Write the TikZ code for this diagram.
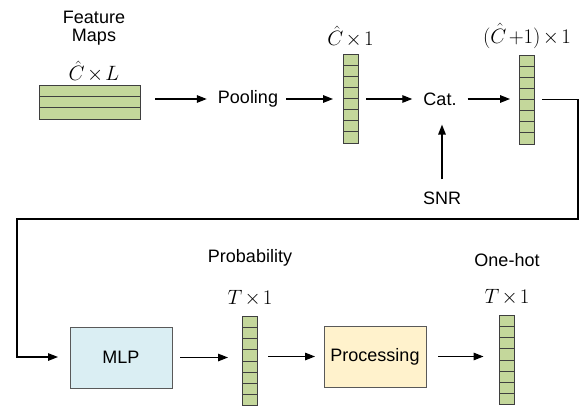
\documentclass[tikz,border=0pt]{standalone}
\usepackage{fontspec}
\setmainfont{Liberation Sans}
\usetikzlibrary{arrows.meta,calc}
\definecolor{cellgreen}{HTML}{C4D79B}
\definecolor{cellborder}{HTML}{3F3F3F}
\definecolor{mlpblue}{HTML}{DAEEF3}
\definecolor{procyellow}{HTML}{FFF2CC}
\definecolor{boxborder}{HTML}{595959}
\tikzset{
  x=1pt, y=1pt,
  lbl/.style={font=\fontsize{18}{21}\selectfont, inner sep=0pt},
  mlbl/.style={font=\fontsize{20}{24}\selectfont, inner sep=0pt},
  vec/.style={draw=cellborder, line width=1pt, fill=cellgreen, minimum width=15pt, minimum height=89pt, inner sep=0pt, outer sep=0pt},
  fmap/.style={draw=cellborder, line width=1pt, fill=cellgreen, minimum width=101pt, minimum height=34pt, inner sep=0pt, outer sep=0pt},
  procbox/.style={draw=boxborder, line width=1pt, minimum width=102pt, minimum height=61pt, inner sep=0pt, outer sep=0pt, font=\fontsize{18}{21}\selectfont},
  cellline/.style={draw=cellborder, line width=1pt},
  arr/.style={line width=1.4pt, -{Triangle[length=10pt,width=7.5pt]}},
  conn/.style={line width=1.4pt},
}
\newcommand{\tx}{\mskip2mu{\times}\mskip2mu}
\begin{document}
\begin{tikzpicture}
\useasboundingbox (0,0) rectangle (581,-407);
% feature maps
\node[lbl] (ft1) at (94,-17) {Feature};
\node[lbl] (ft2) at (94,-37) {Maps};
\node[mlbl] (fml) at (94,-72) {$\hat{C}\tx L$};
\node[fmap] (fm) at (89.5,-102) {};
\foreach \i in {1,2}
  \draw[cellline] ($(fm.north west)!\i/3!(fm.south west)$) -- ($(fm.north east)!\i/3!(fm.south east)$);
% pooling
\node[lbl] (pool) at (248,-99) {Pooling};
% vector 1
\node[vec] (v1) at (350.5,-98.5) {};
\foreach \i in {1,...,7}
  \draw[cellline] ($(v1.north west)!\i/8!(v1.south west)$) -- ($(v1.north east)!\i/8!(v1.south east)$);
\node[mlbl] (v1l) at (350.5,-37) {$\hat{C}\tx 1$};
% cat
\node[lbl] (cat) at (440,-99) {Cat.};
\node[lbl] (snr) at (442,-198) {SNR};
% vector 2
\node[vec] (v2) at (526.5,-99.5) {};
\foreach \i in {1,...,7}
  \draw[cellline] ($(v2.north west)!\i/8!(v2.south west)$) -- ($(v2.north east)!\i/8!(v2.south east)$);
\node[mlbl] (v2l) at (527,-36) {$(\hat{C}\mskip2mu{+}1)\tx 1$};
% MLP
\node[procbox, fill=mlpblue] (mlp) at (121,-357.5) {MLP};
% vector 3
\node[vec] (v3) at (249.5,-361) {};
\foreach \i in {1,...,7}
  \draw[cellline] ($(v3.north west)!\i/8!(v3.south west)$) -- ($(v3.north east)!\i/8!(v3.south east)$);
\node[mlbl] (v3l) at (250,-298) {$T\tx 1$};
\node[lbl] (prob) at (250,-258) {Probability};
% processing
\node[procbox, fill=procyellow] (proc) at (375,-356.5) {Processing};
% vector 4
\node[vec] (v4) at (507,-360) {};
\foreach \i in {1,...,7}
  \draw[cellline] ($(v4.north west)!\i/8!(v4.south west)$) -- ($(v4.north east)!\i/8!(v4.south east)$);
\node[mlbl] (v4l) at (507,-297) {$T\tx 1$};
\node[lbl] (onehot) at (507,-260) {One-hot};
% connectors
\draw[arr, shorten <=15pt, shorten >=11pt] (fm.east |- pool.west) -- (pool.west);
\draw[arr, shorten <=8pt, shorten >=10pt] (pool.east) -- (pool.east -| v1.west);
\draw[arr, shorten <=8pt, shorten >=11pt] (cat.west -| v1.east) -- (cat.west);
\draw[arr, shorten <=11pt, shorten >=9pt] (cat.east) -- (cat.east -| v2.west);
\draw[arr, shorten <=12pt, shorten >=19pt] (snr.north) -- (snr.north |- cat.south);
\coordinate (c1) at (578,-99.5);
\coordinate (c2) at (578,-219);
\coordinate (c3) at (17,-219);
\coordinate (c4) at (17,-357);
\draw[conn, line join=miter] ($(v2.east)+(8,0)$) -- (c1) -- (c2) -- (c3) -- (c4) -- ($(c4)+(10,0)$);
\draw[arr, shorten >=12pt] (c4) -- (c4 -| mlp.west);
\draw[arr, shorten <=8pt, shorten >=14pt] (mlp.east) -- (mlp.east -| v3.west);
\draw[arr, shorten <=11pt, shorten >=9pt] (v3.east |- proc.west) -- (proc.west);
\draw[arr, shorten <=12pt, shorten >=16pt] (proc.east) -- (proc.east -| v4.west);
\end{tikzpicture}
\end{document}
